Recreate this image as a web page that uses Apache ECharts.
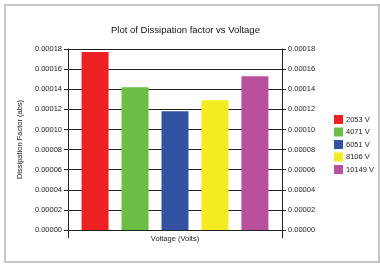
<!DOCTYPE html>
<html>
<head>
<meta charset="utf-8">
<script src="https://cdn.jsdelivr.net/npm/echarts@6/dist/echarts.min.js"></script>
<style>
    html, body { margin: 0; padding: 0; background: #fff; }
    #chart { width: 380px; height: 264px; }
</style>
</head>
<body>
<div id="chart"></div>
<script>
// data
var voltages = ['2053 V', '4071 V', '6051 V', '8106 V', '10149 V'];
var dissipation = [0.000177, 0.000142, 0.000118, 0.000129, 0.000153];
var barColors = ['#ed2024', '#6cbd45', '#3452a4', '#f4ec20', '#b9509e'];
var yTicks = { min: 0, max: 0.00018, interval: 0.00002 };

var myChart = echarts.init(document.getElementById('chart'));

var font = 'Liberation Sans, Arial, sans-serif';

// one series per voltage so the legend lists them
var series = [];
for (var i = 0; i < voltages.length; i++) {
    series.push({
        name: voltages[i],
        type: 'bar',
        data: [dissipation[i]],
        barWidth: 27,
        barGap: '48%',
        itemStyle: { color: barColors[i] }
    });
}

function yAxisOf(pos) {
    return {
        type: 'value',
        position: pos,
        min: yTicks.min,
        max: yTicks.max,
        interval: yTicks.interval,
        axisLine: { show: true, lineStyle: { color: '#222', width: 1 } },
        axisTick: { show: true, length: 4, lineStyle: { color: '#222' } },
        axisLabel: {
            fontFamily: font,
            fontSize: 7.5,
            color: '#1a1a1a',
            margin: 6,
            formatter: function (v) { return v.toFixed(5); }
        },
        splitLine: { show: pos == 'left', lineStyle: { color: '#222', width: 1 } }
    };
}

var left = yAxisOf('left');
left.name = 'Dissipation Factor (abs)';
left.nameLocation = 'middle';
left.nameGap = 40;
left.nameTextStyle = { fontFamily: font, fontSize: 7.5, color: '#1a1a1a' };

var option = {
    backgroundColor: '#fff',
    animation: false,
    title: {
        text: 'Plot of Dissipation factor vs Voltage',
        left: 106,
        top: 20,
        textStyle: { fontFamily: font, fontSize: 9.5, fontWeight: 'normal', color: '#111' }
    },
    legend: {
        orient: 'vertical',
        left: 329,
        top: 110,
        itemWidth: 9,
        itemHeight: 9,
        itemGap: 3.5,
        icon: 'rect',
        data: voltages,
        textStyle: { fontFamily: font, fontSize: 7.5, color: '#1a1a1a', padding: [0, 0, 0, -2] }
    },
    grid: { left: 68, right: 98, top: 49, bottom: 34 },
    xAxis: {
        type: 'category',
        data: [''],
        name: 'Voltage (Volts)',
        nameLocation: 'middle',
        nameGap: 5,
        nameTextStyle: { fontFamily: font, fontSize: 7.5, color: '#1a1a1a' },
        axisLine: { lineStyle: { color: '#222', width: 1 } },
        axisTick: { show: true, length: 8, lineStyle: { color: '#222' } },
        axisLabel: { show: false }
    },
    yAxis: [left, yAxisOf('right')],
    series: series,
    graphic: [{
        type: 'rect',
        shape: { x: 5, y: 5, width: 374, height: 257 },
        style: { fill: 'none', stroke: '#c6c6c6', lineWidth: 2 },
        silent: true
    }]
};

myChart.setOption(option);
</script>
</body>
</html>
